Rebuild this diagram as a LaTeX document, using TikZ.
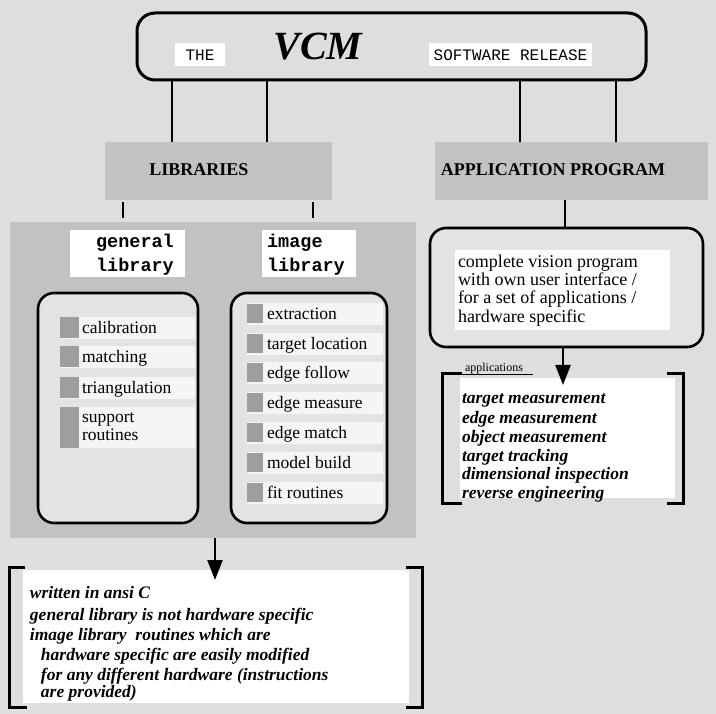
\documentclass[tikz,border=0pt]{standalone}
\usepackage{fontspec}
\setmainfont{Liberation Serif}
\setmonofont{Liberation Mono}
\usetikzlibrary{arrows.meta}
\newcommand\myfs[2]{\fontsize{#1}{#2}\selectfont}
\definecolor{bgc}{gray}{0.87}
\definecolor{panelc}{gray}{0.76}
\definecolor{boxc}{gray}{0.89}
\definecolor{stripc}{gray}{0.96}
\definecolor{sqc}{gray}{0.62}
\begin{document}
\begin{tikzpicture}[x=1pt,y=-1pt,
  every node/.style={inner sep=0pt,outer sep=0pt},
  rbox/.style={draw,line width=2.6pt,rounded corners=16pt,fill=boxc},
  head/.style={fill=panelc},
  headtext/.style={font=\bfseries\myfs{18}{18}},
  whitebox/.style={fill=white},
  libtext/.style={font=\ttfamily\bfseries\myfs{18.5}{24},align=left},
  strip/.style={fill=stripc,minimum height=22pt,anchor=west},
  sqbox/.style={fill=sqc,anchor=west},
  itemtext/.style={anchor=base west,font=\myfs{17.5}{18}},
  bitext/.style={anchor=base west,font=\bfseries\itshape\myfs{17.5}{20}},
  apptext/.style={anchor=base west,font=\myfs{18}{18}},
  conn/.style={line width=2pt},
  arrowline/.style={line width=2.2pt,-{Triangle[length=20pt,width=15pt]}},
  bracketline/.style={line width=3pt}
]
\useasboundingbox (0,0) rectangle (716,714);
\fill[bgc] (0,0) rectangle (716,714);

% ---------- top box ----------
\node[rbox,line width=3pt,rounded corners=18pt,fill=bgc,minimum width=509pt,minimum height=67pt] (top) at (391.5,46.5) {};
\node[whitebox,minimum width=50pt,minimum height=23pt,font=\ttfamily\myfs{16}{16}] (the) at (200,55) {THE};
\node[font=\bfseries\itshape\myfs{40}{40}] (vcm) at (318,47) {VCM};
\node[whitebox,minimum width=163pt,minimum height=23pt,font=\ttfamily\myfs{16}{16}] (soft) at (510.5,55) {SOFTWARE RELEASE};

% ---------- headers ----------
\node[head,minimum width=227pt,minimum height=58pt] (lib) at (218.5,171) {};
\node[headtext] (libt) at (199,170) {LIBRARIES};
\node[head,minimum width=273pt,minimum height=58pt] (app) at (571.5,171) {};
\node[headtext] (appt) at (553,170) {APPLICATION PROGRAM};

\coordinate (c1) at (172,0);
\coordinate (c2) at (267,0);
\coordinate (c3) at (520,0);
\coordinate (c4) at (616,0);
\draw[conn] (top.south -| c1) -- (lib.north -| c1);
\draw[conn] (top.south -| c2) -- (lib.north -| c2);
\draw[conn] (top.south -| c3) -- (app.north -| c3);
\draw[conn] (top.south -| c4) -- (app.north -| c4);

% ---------- libraries panel ----------
\node[fill=panelc,minimum width=406pt,minimum height=316pt] (panel) at (213,380) {};
\coordinate (t1) at (123,0);
\coordinate (t2) at (313,0);
\draw[conn,shorten <=2pt,shorten >=4pt] (lib.south -| t1) -- (panel.north -| t1);
\draw[conn,shorten <=2pt,shorten >=4pt] (lib.south -| t2) -- (panel.north -| t2);

\node[whitebox,minimum width=115pt,minimum height=47pt] (genbox) at (127.5,253.5) {};
\node[libtext] (gent) at (135,255) {general\\library};
\node[whitebox,minimum width=94pt,minimum height=47pt] (imgbox) at (309,253.5) {};
\node[libtext] (imgt) at (306,255) {image\\library};

\node[rbox,minimum width=160pt,minimum height=230pt] (genrb) at (118,408) {};
\node[rbox,minimum width=156pt,minimum height=230pt] (imgrb) at (309,408) {};

% general library items
\foreach \n/\y/\t in {g1/328/calibration,g2/357/matching,g3/388/triangulation}{
  \node[strip,minimum width=135pt] (\n s) at (60,\y) {};
  \node[sqbox,minimum width=19pt,minimum height=21pt] (\n q) at (60,\y) {};
  \node[itemtext] (\n t) at (82,\y+5.5) {\t};
}
\node[strip,minimum width=135pt,minimum height=41pt] (g4s) at (60,427.5) {};
\node[sqbox,minimum width=19pt,minimum height=41pt] (g4q) at (60,427.5) {};
\node[itemtext] (g4t) at (82,422.5) {support};
\node[itemtext] (g4u) at (82,440.5) {routines};

% image library items
\foreach \n/\y/\t in {m1/314/extraction,m2/344/target location,m3/373/edge follow,m4/403/edge measure,m5/433/edge match,m6/463/model build,m7/493/fit routines}{
  \node[strip,minimum width=136pt] (\n s) at (247,\y) {};
  \node[sqbox,minimum width=16pt,minimum height=19pt] (\n q) at (247,\y) {};
  \node[itemtext] (\n t) at (267,\y+5.5) {\t};
}

% ---------- bottom note ----------
\node[whitebox,minimum width=386pt,minimum height=133pt] (bot) at (216,636.5) {};
\coordinate (a1tip) at (215,580);
\draw[arrowline] (panel.south -| a1tip) -- (a1tip);
\draw[bracketline] (25,567) -- (9,567) -- (9,707) -- (27,707);
\draw[bracketline] (406,567) -- (422,567) -- (422,707) -- (406,707);
\node[bitext] (b1) at (30,598.5) {written in ansi C};
\node[bitext] (b2) at (30,620) {general library is not hardware specific};
\node[bitext] (b3) at (30,640) {image library~ routines which are};
\node[bitext] (b4) at (41,660) {hardware specific are easily modified};
\node[bitext] (b5) at (41,680) {for any different hardware (instructions};
\node[bitext] (b6) at (41,697) {are provided)};

% ---------- application program ----------
\node[rbox,minimum width=273pt,minimum height=119pt] (apprb) at (566.5,287.5) {};
\node[whitebox,minimum width=215pt,minimum height=80pt] (appw) at (562.5,290) {};
\coordinate (c5) at (565,0);
\draw[conn] (app.south -| c5) -- (apprb.north -| c5);
\node[apptext] (p1) at (458,267.5) {complete vision program};
\node[apptext] (p2) at (458,285.5) {with own user interface /};
\node[apptext] (p3) at (458,303.5) {for a set of applications /};
\node[apptext] (p4) at (458,322.5) {hardware specific};

\node[whitebox,minimum width=215pt,minimum height=120pt] (appl) at (567.5,438) {};
\coordinate (a2tip) at (563,385);
\draw[arrowline] (apprb.south -| a2tip) -- (a2tip);
\draw[bracketline] (462,374) -- (442,374) -- (442,504) -- (462,504);
\draw[line width=1pt] (460,375) -- (533,375);
\draw[bracketline] (667,374) -- (683,374) -- (683,504) -- (667,504);
\node[anchor=base west,font=\myfs{12}{12}] (applab) at (465,372) {applications};
\node[bitext] (r1) at (462,403.5) {target measurement};
\node[bitext] (r2) at (462,423.5) {edge measurement};
\node[bitext] (r3) at (462,442.5) {object measurement};
\node[bitext] (r4) at (462,462) {target tracking};
\node[bitext] (r5) at (462,480) {dimensional inspection};
\node[bitext] (r6) at (462,498.5) {reverse engineering};
\end{tikzpicture}
\end{document}
